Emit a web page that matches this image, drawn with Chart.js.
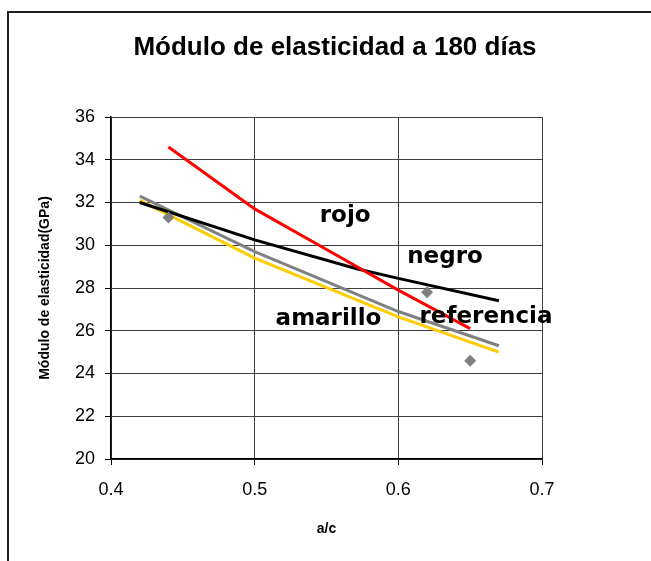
<!DOCTYPE html>
<html>
<head>
<meta charset="utf-8">
<script src="https://cdn.jsdelivr.net/npm/chart.js@4/dist/chart.umd.min.js"></script>
<style>
    body { margin: 0; background: #fff; }
    #marco { position: absolute; left: 7px; top: 11px; width: 660px; height: 570px; border-left: 2px solid #222; border-top: 2px solid #222; }
    #grafico { position: absolute; left: 0; top: 0; }
</style>
</head>
<body>
<div id="marco"></div>
<canvas id="grafico" width="651" height="561"></canvas>
<script>
    // datos (a/c vs modulo en GPa)
    const acRojo = [0.44, 0.5, 0.55, 0.6, 0.65];
    const rojo = [34.6, 31.7, 29.8, 27.9, 26.1];

    const acNegro = [0.42, 0.5, 0.571, 0.6, 0.67];
    const negro = [32.0, 30.25, 28.9, 28.45, 27.4];

    const acReferencia = [0.42, 0.5, 0.6, 0.67];
    const referencia = [32.3, 29.7, 26.9, 25.3];

    const acAmarillo = [0.42, 0.5, 0.6, 0.67];
    const amarillo = [32.1, 29.4, 26.65, 25.0];

    const acPuntos = [0.44, 0.62, 0.65];
    const puntos = [31.3, 27.8, 24.6];

    const ticksY = [20, 22, 24, 26, 28, 30, 32, 34, 36];
    const ticksX = [0.4, 0.5, 0.6, 0.7];

    // etiquetas de texto dentro del grafico (posicion de la linea base)
    const etiquetas = ['rojo', 'negro', 'amarillo', 'referencia'];
    const etiquetasX = [0.563, 0.6325, 0.5514, 0.661];
    const etiquetasY = [31.1, 29.18, 26.27, 26.35];

    const titulo = 'Módulo de elasticidad a 180 días';

    function pares(xs, ys) {
        return xs.map((x, i) => ({ x: x, y: ys[i] }));
    }

    const textos = {
        id: 'textos',
        afterDatasetsDraw(chart) {
            const ctx = chart.ctx;
            const sx = chart.scales.x, sy = chart.scales.y;
            ctx.save();
            ctx.fillStyle = '#000';
            ctx.textAlign = 'center';
            ctx.textBaseline = 'alphabetic';
            ctx.font = 'bold 23px "DejaVu Sans"';
            etiquetas.forEach((t, i) => {
                ctx.fillText(t, sx.getPixelForValue(etiquetasX[i]), sy.getPixelForValue(etiquetasY[i]));
            });
            ctx.textBaseline = 'middle';
            ctx.font = 'bold 26px "Liberation Sans", Arial';
            ctx.fillText(titulo, 335, 48);
            ctx.restore();
        }
    };

    new Chart(document.getElementById('grafico'), {
        type: 'scatter',
        data: {
            datasets: [
                { label: 'puntos', data: pares(acPuntos, puntos), showLine: false, pointStyle: 'rectRot', pointRadius: 6, backgroundColor: '#808080', borderColor: '#808080', borderWidth: 0 },
                { label: 'rojo', data: pares(acRojo, rojo), showLine: true, borderColor: '#ff0000', borderWidth: 3, pointRadius: 0 },
                { label: 'negro', data: pares(acNegro, negro), showLine: true, borderColor: '#000000', borderWidth: 3, pointRadius: 0 },
                { label: 'referencia', data: pares(acReferencia, referencia), showLine: true, borderColor: '#808080', borderWidth: 3, pointRadius: 0 },
                { label: 'amarillo', data: pares(acAmarillo, amarillo), showLine: true, borderColor: '#ffcc00', borderWidth: 3, pointRadius: 0 }
            ]
        },
        options: {
            responsive: false,
            animation: false,
            devicePixelRatio: 1,
            layout: { padding: { top: 117, right: 109, left: 0, bottom: 0 } },
            plugins: { legend: { display: false }, tooltip: { enabled: false } },
            scales: {
                x: {
                    type: 'linear',
                    min: 0.4, max: 0.7,
                    afterBuildTicks: s => { s.ticks = ticksX.map(v => ({ value: v })); },
                    afterFit: s => { s.height = 102; },
                    ticks: { color: '#000', font: { family: '"Liberation Sans", Arial', size: 18 }, padding: 14, callback: v => v.toFixed(1) },
                    grid: { color: '#404040', lineWidth: 1, tickLength: 6, tickColor: '#000' },
                    border: { color: '#000', width: 1.5 },
                    title: { display: true, text: 'a/c', color: '#000', font: { family: '"Liberation Sans", Arial', size: 14, weight: 'bold' }, padding: { top: 0, bottom: 23 } }
                },
                y: {
                    min: 20, max: 36,
                    afterBuildTicks: s => { s.ticks = ticksY.map(v => ({ value: v })); },
                    afterFit: s => { s.width = 111; },
                    ticks: { color: '#000', font: { family: '"Liberation Sans", Arial', size: 18 }, padding: 10 },
                    grid: { color: '#404040', lineWidth: 1, tickLength: 6, tickColor: '#000' },
                    border: { color: '#000', width: 1.5 },
                    title: { display: true, text: 'Módulo de elasticidad(GPa)', color: '#000', font: { family: '"Liberation Sans", Arial', size: 14, weight: 'bold' }, padding: { top: 37, bottom: 0 } }
                }
            }
        },
        plugins: [textos]
    });
</script>
</body>
</html>
